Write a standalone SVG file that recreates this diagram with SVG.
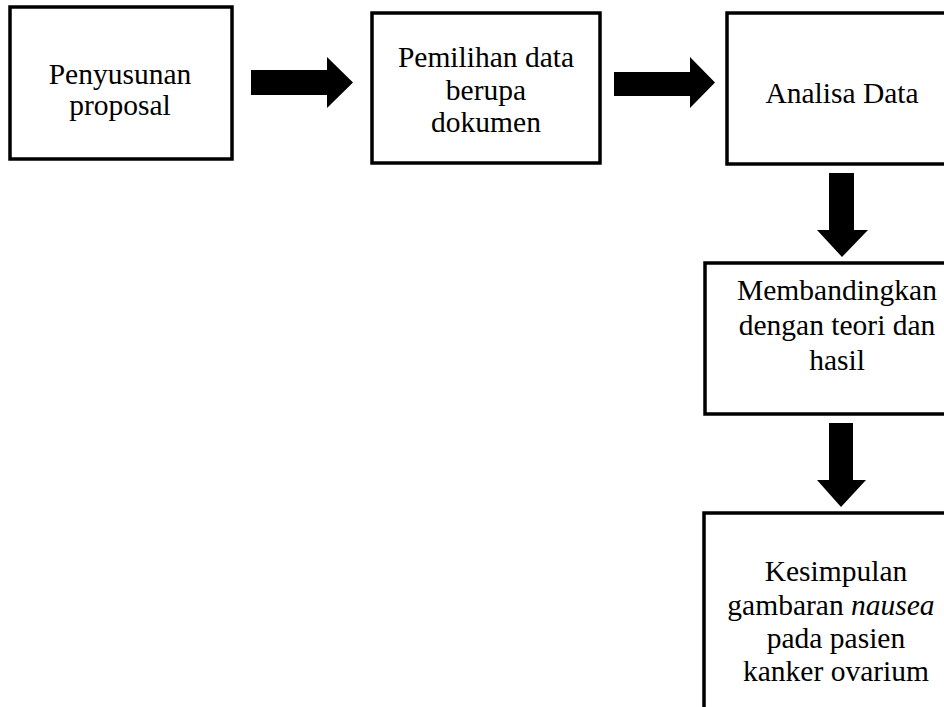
<svg xmlns="http://www.w3.org/2000/svg" width="944" height="707" viewBox="0 0 944 707">
<style>
.box{fill:#fff;stroke:#000;stroke-width:3.5}
.t{font-family:"Liberation Serif","Times New Roman",serif;font-size:29.5px;fill:#000;text-anchor:middle}
.arr{fill:#000}
</style>
<rect width="944" height="707" fill="#fff"/>
<g id="n1"><rect class="box" x="10" y="7" width="222" height="152"/>
<text class="t" x="120" y="84">Penyusunan</text><text class="t" x="120" y="115">proposal</text></g>
<g id="n2"><rect class="box" x="372" y="13" width="228" height="150"/>
<text class="t" x="486" y="67">Pemilihan data</text><text class="t" x="486" y="100">berupa</text><text class="t" x="486" y="132">dokumen</text></g>
<g id="n3"><rect class="box" x="727" y="13" width="240" height="151"/>
<text class="t" x="842" y="103">Analisa Data</text></g>
<g id="n4"><rect class="box" x="705" y="263" width="262" height="151"/>
<text class="t" x="837" y="300">Membandingkan</text><text class="t" x="837" y="335">dengan teori dan</text><text class="t" x="837" y="370">hasil</text></g>
<g id="n5"><rect class="box" x="704" y="513" width="262" height="220"/>
<text class="t" x="836" y="581">Kesimpulan</text><text class="t" x="831" y="615">gambaran <tspan font-style="italic">nausea</tspan></text><text class="t" x="836" y="648">pada pasien</text><text class="t" x="836" y="681">kanker ovarium</text></g>
<g id="connectors">
<polygon class="arr" points="251,70 327,70 327,57 353,82.5 327,108 327,95 251,95"/>
<polygon class="arr" points="614,72 690,72 690,57 715,82.5 690,108 690,96 614,96"/>
<polygon class="arr" points="829,173 854,173 854,230 868,230 842,257 817,230 829,230"/>
<polygon class="arr" points="829,423 853,423 853,480 866,480 841,507 817,480 829,480"/>
</g>
</svg>
